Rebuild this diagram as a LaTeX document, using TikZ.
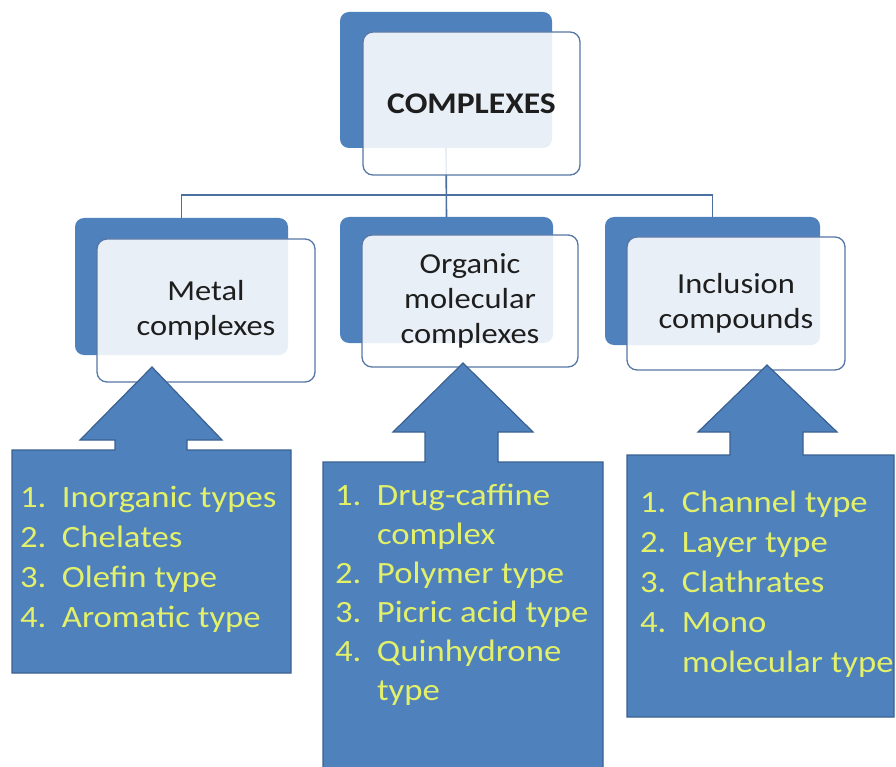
\documentclass[tikz,border=0pt]{standalone}
\usepackage{fontspec}
\setmainfont{Carlito}[FakeStretch=1.12]
\definecolor{boxblue}{HTML}{4F81BD}
\definecolor{calloutedge}{HTML}{3A6190}
\definecolor{frontedge}{HTML}{5677A6}
\definecolor{connblue}{HTML}{4A6FA0}
\definecolor{itemyellow}{HTML}{E2F06A}
\definecolor{labeltext}{HTML}{1E1E1E}
\newcommand{\itm}[5]{\node[item] (#1) at (#2,#3) {\makebox[42pt][l]{#4}#5};}
\begin{document}
\begin{tikzpicture}[x=1pt,y=-1pt,
  back/.style={fill=boxblue, draw=none, rounded corners=9pt, inner sep=0pt, outer sep=0pt},
  front/.style={fill=white, fill opacity=0.88, text opacity=1, draw=frontedge, line width=1.3pt,
    rounded corners=10pt, inner sep=0pt, outer sep=0pt, align=center,
    font=\fontsize{29}{35}\selectfont, text=labeltext},
  conn/.style={draw=connblue, line width=1.6pt},
  callout/.style={fill=boxblue, draw=calloutedge, line width=1.2pt, line join=miter},
  item/.style={anchor=base west, inner sep=0pt, outer sep=0pt, text=itemyellow,
    font=\fontsize{31}{40}\selectfont}]
\useasboundingbox (0,0) rectangle (896,767);
\clip (0,0) rectangle (896,767);

% back boxes
\node[back, minimum width=212pt, minimum height=136pt] (tback) at (446,80) {};
\node[back, minimum width=213pt, minimum height=137pt] (lback) at (181.5,286.5) {};
\node[back, minimum width=213pt, minimum height=126pt] (mback) at (446.5,280) {};
\node[back, minimum width=215pt, minimum height=128pt] (rback) at (712.5,281) {};

% connectors
\coordinate (hl) at (0,195);
\draw[conn] (tback.south) -- (mback.north);
\draw[conn] (lback.north) -- (lback.north |- hl) -- (rback.north |- hl) -- (rback.north);

% front boxes
\node[front, minimum width=217pt, minimum height=143pt, font=\fontsize{30}{36}\selectfont\bfseries] (tfront) at (471.5,103.5) {COMPLEXES};
\node[front, minimum width=218pt, minimum height=143pt] (lfront) at (206,310.5) {Metal\\complexes};
\node[front, minimum width=216pt, minimum height=132pt] (mfront) at (470,301) {Organic\\molecular\\complexes};
\node[front, minimum width=218pt, minimum height=133pt] (rfront) at (736,303.5) {Inclusion\\compounds};

% callouts
\draw[callout] (12,673) -- (12,450) -- (115,450) -- (115,440) -- (80,440) -- (152,367)
  -- (222,440) -- (187,440) -- (187,450) -- (291,450) -- (291,673) -- cycle;
\draw[callout] (323,790) -- (323,462) -- (425,462) -- (425,432) -- (393,432) -- (463,363)
  -- (533,432) -- (498,432) -- (498,462) -- (603,462) -- (603,790) -- cycle;
\draw[callout] (627,717) -- (627,455) -- (730,455) -- (730,432) -- (698,432) -- (767,365)
  -- (837,432) -- (803,432) -- (803,455) -- (894,455) -- (894,717) -- cycle;

% items
\itm{a1}{20}{507}{1.}{Inorganic types}
\itm{a2}{20}{547}{2.}{Chelates}
\itm{a3}{20}{587}{3.}{Olefin type}
\itm{a4}{20}{627}{4.}{Aromatic type}

\itm{b1}{335}{505}{1.}{Drug-caffine}
\itm{b2}{335}{544}{}{complex}
\itm{b3}{335}{583}{2.}{Polymer type}
\itm{b4}{335}{622}{3.}{Picric acid type}
\itm{b5}{335}{661}{4.}{Quinhydrone}
\itm{b6}{335}{700}{}{type}

\itm{c1}{640}{512}{1.}{Channel type}
\itm{c2}{640}{552}{2.}{Layer type}
\itm{c3}{640}{592}{3.}{Clathrates}
\itm{c4}{640}{632}{4.}{Mono}
\itm{c5}{640}{672}{}{molecular type}
\end{tikzpicture}
\end{document}
